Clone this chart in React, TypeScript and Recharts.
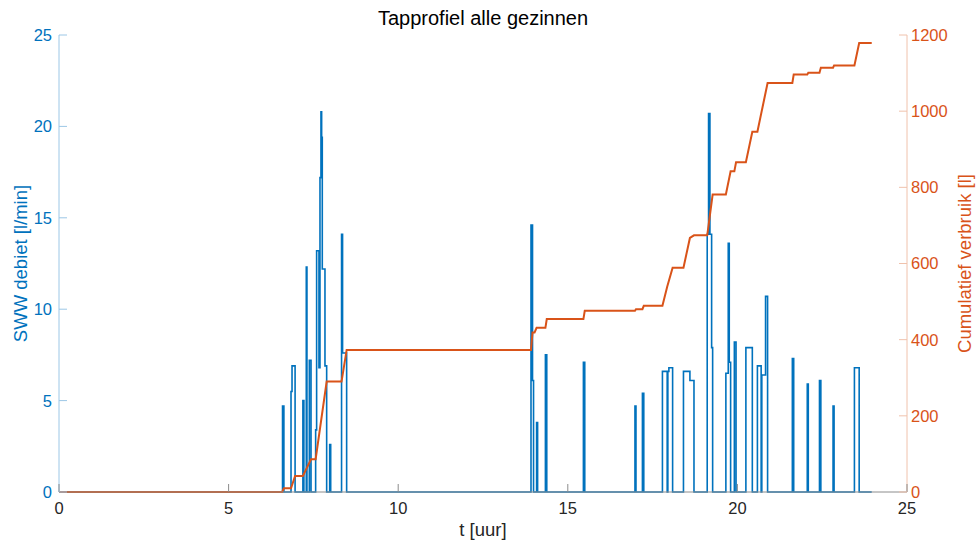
import { Line, LineChart, XAxis, YAxis } from "recharts";

const FONT = '"Liberation Sans", Arial, Helvetica, sans-serif';
const BLUE = "#0072BD";
const ORANGE = "#D95319";
const INK = "#262626";
const FRAME = "#8c8c8c";
const BLUE_SPINE = "#9cc7e6";
const ORANGE_SPINE = "#f0c2ac";
const TICK_LEN = 8;

// hot water flow [l/min], stairs: each value holds until the next time stamp [h]
const flowTimes = [
  0, 6.59, 6.63, 6.84, 6.87, 6.96, 7.19, 7.22, 7.29, 7.31, 7.38, 7.43,
  7.566, 7.595, 7.664, 7.694, 7.723, 7.743, 7.762, 7.841, 7.891, 7.98, 8.01,
  8.33, 8.36, 8.48, 13.915, 13.96, 13.99, 14.08, 14.11, 14.34, 14.38, 15.46,
  15.5, 16.98, 17.01, 17.2, 17.24, 17.79, 17.93, 17.95, 17.98, 18.09, 18.41,
  18.6, 18.72, 19.11, 19.15, 19.19, 19.24, 19.27, 19.66, 19.73, 19.76, 19.8,
  19.91, 19.96, 20.25, 20.44, 20.59, 20.7, 20.72, 20.83, 20.89, 21.62, 21.66,
  22.06, 22.09, 22.42, 22.46, 22.82, 22.85, 23.45, 23.59, 23.96,
];
const flowValues = [
  0, 4.7, 0, 5.5, 6.9, 0, 5.0, 0, 12.3, 0, 7.2, 0,
  3.4, 13.2, 6.8, 17.2, 20.8, 19.4, 12.2, 6.9, 0, 2.6, 0,
  14.1, 7.6, 0, 14.6, 6.1, 0, 3.8, 0, 7.5, 0, 7.1,
  0, 4.7, 0, 5.4, 0, 6.6, 0, 6.6, 6.8, 0, 6.6,
  6.1, 0, 14.1, 20.7, 14.1, 7.9, 0, 6.5, 13.6, 7.1, 0,
  8.2, 0, 7.9, 0, 6.9, 0, 6.4, 10.7, 0, 7.3, 0,
  5.9, 0, 6.1, 0, 4.7, 0, 6.8, 0, 0,
];

// cumulative consumption [l]
const volumeTimes = [
  0, 6.58, 6.63, 6.84, 6.96, 7.19, 7.43, 7.566, 7.891, 8.33, 8.48, 13.915,
  13.96, 14.02, 14.08, 14.34, 14.38, 15.46, 15.5, 16.98, 17.01, 17.2, 17.24,
  17.79, 17.93, 18.09, 18.41, 18.6, 18.72, 19.11, 19.15, 19.27, 19.66, 19.8,
  19.91, 19.96, 20.25, 20.44, 20.59, 20.89, 21.62, 21.66, 22.06, 22.09, 22.42,
  22.46, 22.82, 22.85, 23.45, 23.59, 23.96,
];
const volumeValues = [
  0, 0, 10, 10, 42, 42, 86, 86, 290, 290, 373, 373,
  419, 419, 431, 431, 454, 454, 476, 476, 480, 480, 489,
  489, 539, 589, 589, 667, 674, 674, 700, 781, 781, 842,
  842, 866, 866, 946, 946, 1074, 1074, 1096, 1096, 1101, 1101,
  1114, 1114, 1120, 1120, 1179, 1179,
];

const hourTicks = [0, 5, 10, 15, 20, 25];
const flowTicks = [0, 5, 10, 15, 20, 25];
const volumeTicks = [0, 200, 400, 600, 800, 1000, 1200];

const flowData = flowTimes.map((t, i) => ({ t, flow: flowValues[i] }));
const volumeData = volumeTimes.map((t, i) => ({ t, volume: volumeValues[i] }));

const tickFont = { fontFamily: FONT, fontSize: 16.5 };

function BottomTick({ x, y, payload }: any) {
  return (
    <g>
      <line x1={x} y1={y} x2={x} y2={y - TICK_LEN} stroke={FRAME} />
      <text x={x} y={y + 22} textAnchor="middle" fill={INK} {...tickFont}>
        {payload.value}
      </text>
    </g>
  );
}

function TopTick({ x, y }: any) {
  return <line x1={x} y1={y} x2={x} y2={y + TICK_LEN} stroke={FRAME} />;
}

function LeftTick({ x, y, payload }: any) {
  return (
    <g>
      <line x1={x} y1={y} x2={x + TICK_LEN} y2={y} stroke={BLUE_SPINE} />
      <text x={x - 7} y={y} dy="0.36em" textAnchor="end" fill={BLUE} {...tickFont}>
        {payload.value}
      </text>
    </g>
  );
}

function RightTick({ x, y, payload }: any) {
  return (
    <g>
      <line x1={x} y1={y} x2={x - TICK_LEN} y2={y} stroke={ORANGE_SPINE} />
      <text x={x + 4} y={y} dy="0.36em" textAnchor="start" fill={ORANGE} {...tickFont}>
        {payload.value}
      </text>
    </g>
  );
}

function SideTitle({ viewBox, text, color, offsetX }: any) {
  const cx = viewBox.x + offsetX;
  const cy = viewBox.y + viewBox.height / 2;
  return (
    <text
      transform={`translate(${cx},${cy}) rotate(-90)`}
      textAnchor="middle"
      dominantBaseline="central"
      fill={color}
      fontFamily={FONT}
      fontSize={18.5}
    >
      {text}
    </text>
  );
}

function BottomTitle({ viewBox }: any) {
  return (
    <text
      x={viewBox.x + viewBox.width / 2}
      y={viewBox.y + 44}
      textAnchor="middle"
      fill={INK}
      fontFamily={FONT}
      fontSize={18.5}
    >
      t [uur]
    </text>
  );
}

export default function App() {
  return (
    <div style={{ position: "absolute", left: 0, top: 0, width: 977, height: 544, background: "#fff" }}>
      <div
        style={{
          position: "absolute",
          left: 59,
          width: 848,
          top: 8,
          lineHeight: "20px",
          textAlign: "center",
          fontFamily: FONT,
          fontSize: 20,
          color: "#000",
        }}
      >
        Tapprofiel alle gezinnen
      </div>
      <LineChart width={977} height={544} margin={{ top: 35, right: 0, bottom: 0, left: 0 }}>
        <XAxis
          xAxisId="top"
          orientation="top"
          dataKey="t"
          type="number"
          domain={[0, 25]}
          ticks={hourTicks}
          interval={0}
          height={0}
          stroke={FRAME}
          tickSize={0}
          tickMargin={0}
          tick={<TopTick />}
        />
        <XAxis
          dataKey="t"
          type="number"
          domain={[0, 25]}
          ticks={hourTicks}
          interval={0}
          height={52}
          stroke={FRAME}
          tickSize={0}
          tickMargin={0}
          tick={<BottomTick />}
          label={<BottomTitle />}
        />
        <YAxis
          yAxisId="flow"
          orientation="left"
          domain={[0, 25]}
          ticks={flowTicks}
          interval={0}
          width={59}
          stroke={BLUE_SPINE}
          tickSize={0}
          tickMargin={0}
          tick={<LeftTick />}
          label={<SideTitle text="SWW debiet [l/min]" color={BLUE} offsetX={20} />}
        />
        <YAxis
          yAxisId="volume"
          orientation="right"
          domain={[0, 1200]}
          ticks={volumeTicks}
          interval={0}
          width={70}
          stroke={ORANGE_SPINE}
          tickSize={0}
          tickMargin={0}
          tick={<RightTick />}
          label={<SideTitle text="Cumulatief verbruik [l]" color={ORANGE} offsetX={57} />}
        />
        <Line
          yAxisId="flow"
          data={flowData}
          dataKey="flow"
          type="stepAfter"
          stroke={BLUE}
          strokeWidth={1.6}
          dot={false}
          activeDot={false}
          isAnimationActive={false}
        />
        <Line
          yAxisId="volume"
          data={volumeData}
          dataKey="volume"
          type="linear"
          stroke={ORANGE}
          strokeWidth={2}
          dot={false}
          activeDot={false}
          isAnimationActive={false}
        />
      </LineChart>
    </div>
  );
}
